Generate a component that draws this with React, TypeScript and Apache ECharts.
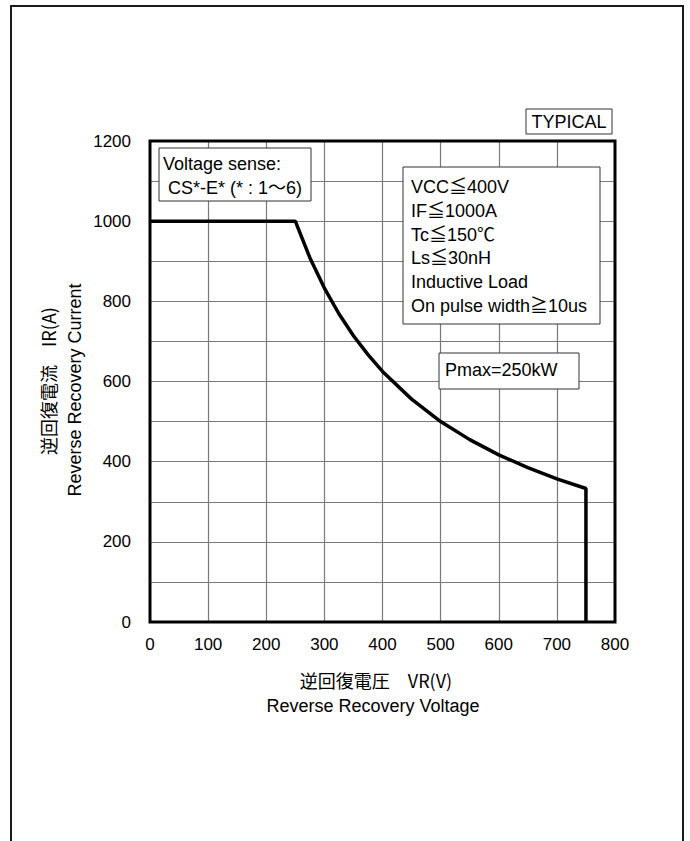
import React, { useEffect, useRef } from "react";
import * as echarts from "echarts";

// Reverse recovery voltage (V) and current (A)
const voltage = [0, 250, 275, 300, 325, 350, 375, 400, 450, 500, 550, 600, 650, 700, 750, 750];
const current = [1000, 1000, 909, 833, 769, 714, 667, 625, 556, 500, 455, 417, 385, 357, 333, 0];

const xTicks = [0, 100, 200, 300, 400, 500, 600, 700, 800];
const yTicks = [0, 200, 400, 600, 800, 1000, 1200];

const sensingLines = ["Voltage sense:", " CS*-E* (* : 1～6)"];
const conditionLines = [
  "VCC≦400V",
  "IF≦1000A",
  "Tc≦150℃",
  "Ls≦30nH",
  "Inductive Load",
  "On pulse width≧10us",
];
const pmaxLabel = "Pmax=250kW";
const typicalLabel = "TYPICAL";
const xTitleJa = "逆回復電圧　VR(V)";
const xTitleEn = "Reverse Recovery Voltage";
const yTitleJa = "逆回復電流　IR(A)";
const yTitleEn = "Reverse Recovery Current";

const FONT = "'Liberation Sans', Arial, 'Noto Sans CJK JP', sans-serif";
const FONT_JA = "'Noto Sans CJK JP', 'Liberation Sans', sans-serif";

export default function App() {
  const ref = useRef<HTMLDivElement>(null);

  useEffect(() => {
    if (!ref.current) return;
    const chart = echarts.init(ref.current, undefined, { renderer: "svg" });

    const boxStyle = { fill: "#fff", stroke: "#333", lineWidth: 1 };
    const textBase = { fill: "#000", fontFamily: FONT, fontSize: 18 };

    chart.setOption({
      animation: false,
      backgroundColor: "#fff",
      grid: {
        left: 150,
        right: 75,
        top: 141,
        bottom: 219,
        show: true,
        borderColor: "#000",
        borderWidth: 3,
        backgroundColor: "transparent",
        z: 5,
      },
      xAxis: {
        type: "value",
        min: 0,
        max: 800,
        interval: 100,
        axisLine: { show: false },
        axisTick: { show: false },
        axisLabel: {
          margin: 14,
          color: "#000",
          fontFamily: FONT,
          fontSize: 17,
          formatter: (v: number) => (xTicks.includes(v) ? String(v) : ""),
        },
        splitLine: {
          show: true,
          showMinLine: false,
          showMaxLine: false,
          lineStyle: { color: "#7a7a7a", width: 1.2 },
        },
      },
      yAxis: {
        type: "value",
        min: 0,
        max: 1200,
        interval: 100,
        axisLine: { show: false },
        axisTick: { show: false },
        axisLabel: {
          margin: 19,
          color: "#000",
          fontFamily: FONT,
          fontSize: 17,
          formatter: (v: number) => (yTicks.includes(v) ? String(v) : ""),
        },
        splitLine: {
          show: true,
          showMinLine: false,
          showMaxLine: false,
          lineStyle: { color: "#7a7a7a", width: 1.2 },
        },
      },
      series: [
        {
          type: "line",
          data: voltage.map((v, i) => [v, current[i]]),
          showSymbol: false,
          symbol: "none",
          lineStyle: { color: "#000", width: 3.5 },
          z: 10,
        },
      ],
      graphic: [
        {
          type: "rect",
          shape: { x: 11, y: 6, width: 672, height: 900 },
          style: { fill: "none", stroke: "#1a1a1a", lineWidth: 2 },
          silent: true,
          z: 1,
        },
        // TYPICAL
        {
          type: "rect",
          shape: { x: 526, y: 109, width: 86, height: 25 },
          style: boxStyle,
          z: 100,
        },
        {
          type: "text",
          x: 569,
          y: 122,
          style: { ...textBase, text: typicalLabel, align: "center", verticalAlign: "middle" },
          z: 101,
        },
        // Voltage sense box
        {
          type: "rect",
          shape: { x: 159, y: 148, width: 152, height: 53 },
          style: boxStyle,
          z: 100,
        },
        {
          type: "text",
          x: 163,
          y: 152,
          style: {
            ...textBase,
            text: sensingLines.join("\n"),
            lineHeight: 24,
            align: "left",
            verticalAlign: "top",
          },
          z: 101,
        },
        // Conditions box
        {
          type: "rect",
          shape: { x: 403, y: 167, width: 197, height: 157 },
          style: boxStyle,
          z: 100,
        },
        {
          type: "text",
          x: 411,
          y: 175,
          style: {
            ...textBase,
            text: conditionLines.join("\n"),
            lineHeight: 23.8,
            align: "left",
            verticalAlign: "top",
          },
          z: 101,
        },
        // Pmax box
        {
          type: "rect",
          shape: { x: 439, y: 353, width: 140, height: 36 },
          style: boxStyle,
          z: 100,
        },
        {
          type: "text",
          x: 445,
          y: 370,
          style: { ...textBase, text: pmaxLabel, align: "left", verticalAlign: "middle" },
          z: 101,
        },
        // X axis titles
        {
          type: "text",
          x: 376,
          y: 680,
          style: {
            fill: "#000",
            fontFamily: FONT_JA,
            fontSize: 18,
            text: xTitleJa,
            align: "center",
            verticalAlign: "middle",
          },
        },
        {
          type: "text",
          x: 373,
          y: 706,
          style: { ...textBase, text: xTitleEn, align: "center", verticalAlign: "middle" },
        },
        // Y axis titles
        {
          type: "text",
          x: 48,
          y: 381,
          rotation: Math.PI / 2,
          style: {
            fill: "#000",
            fontFamily: FONT_JA,
            fontSize: 18,
            text: yTitleJa,
            align: "center",
            verticalAlign: "middle",
          },
        },
        {
          type: "text",
          x: 75,
          y: 390,
          rotation: Math.PI / 2,
          style: { ...textBase, text: yTitleEn, align: "center", verticalAlign: "middle" },
        },
      ],
    });

    return () => chart.dispose();
  }, []);

  return (
    <div
      ref={ref}
      style={{ position: "absolute", left: 0, top: 0, width: 690, height: 841 }}
    />
  );
}
